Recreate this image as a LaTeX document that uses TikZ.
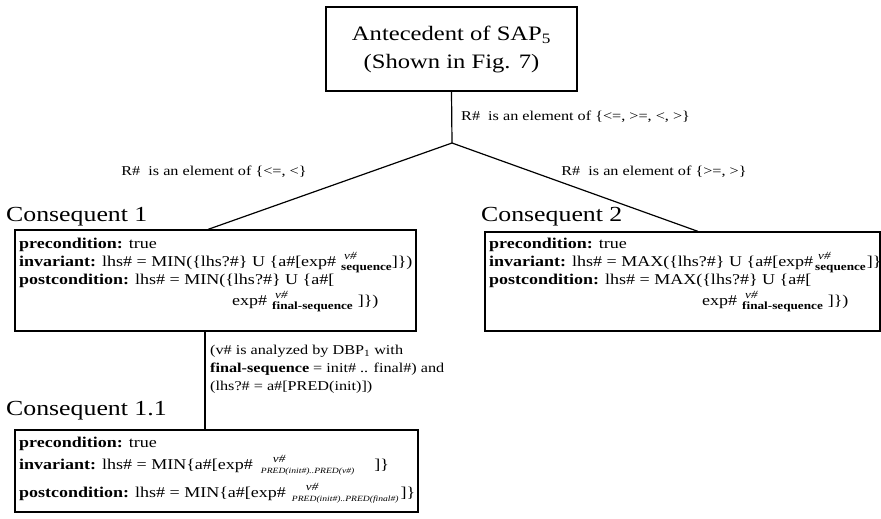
\documentclass[tikz,border=0pt]{standalone}
\usepackage{fontspec}
\setmainfont{Liberation Serif}[FakeStretch=1.2]
\newcommand\vmark[1]{\rlap{\hspace*{#1}\raisebox{7pt}{\fontsize{11}{11}\selectfont\textit{v\#}}}}
\newcommand\lowsub[2]{\raisebox{-4pt}{\fontsize{#1}{#1}\selectfont #2}}
\begin{document}
\begin{tikzpicture}[x=1pt,y=-1pt,
  box/.style={draw, line width=1.2pt, inner sep=0pt},
  txt/.style={font=\fontsize{15}{18}\selectfont, anchor=base west, inner sep=0pt},
  cond/.style={font=\fontsize{13.5}{18}\selectfont, inner sep=0pt},
  cons/.style={font=\fontsize{21.5}{26}\selectfont, anchor=base west, inner sep=0pt},
  link/.style={line width=1.2pt}]
\useasboundingbox (0,0) rectangle (881,519);

% antecedent
\node[box, minimum width=251pt, minimum height=84pt, align=center,
      font=\fontsize{20.5}{28}\selectfont] (ante) at (451.5,49)
  {Antecedent of SAP\textsubscript{5}\\(Shown in Fig. 7)};
\coordinate (j) at (452,143);
\coordinate (b1) at (208,0);
\coordinate (b2) at (698,0);
\coordinate (k) at (205,0);

% consequent boxes
\node[box, minimum width=401pt, minimum height=101pt] (c1) at (215.5,280.5) {};
\node[box, minimum width=395pt, minimum height=99pt] (c2) at (682.5,281.5) {};
\node[box, minimum width=403pt, minimum height=82pt] (c11) at (216.5,471) {};

% connectors
\draw[link] (ante.south) -- (j);
\draw[link] (j) -- (c1.north -| b1);
\draw[link] (j) -- (c2.north -| b2);
\draw[link] (c1.south -| k) -- (c11.north -| k);

% branch conditions
\node[cond, anchor=west] (r0) at (461,117) {R\#\ \ is an element of \{<=, >=, <, >\}};
\node[cond] (r1) at (214,172) {R\#\ \ is an element of \{<=, <\}};
\node[cond] (r2) at (654,172) {R\#\ \ is an element of \{>=, >\}};
\node[cond, anchor=north west, align=left] (r3) at (210,345)
  {(v\# is analyzed by DBP\textsubscript{1} with\\
   \textbf{final-sequence} = init\# .. final\#) and\\
   (lhs?\# = a\#[PRED(init)])};

% titles
\node[cons] (t1) at (6,221) {Consequent 1};
\node[cons] (t2) at (481,221) {Consequent 2};
\node[cons] (t11) at (6,415) {Consequent 1.1};

% consequent 1
\node[txt] (c1a) at (19,248) {\textbf{precondition:} true};
\node[txt] (c1b) at (19,266) {\textbf{invariant:} lhs\# = MIN(\{lhs?\#\} U \{a\#[exp\#\hspace{5pt}\vmark{3pt}\lowsub{11}{\textbf{sequence}}]\})};
\node[txt] (c1c) at (19,284) {\textbf{postcondition:} lhs\# = MIN(\{lhs?\#\} U \{a\#[};
\node[txt] (c1d) at (232,305) {exp\#\hspace{5pt}\vmark{3pt}\lowsub{11}{\textbf{final-sequence}}\hspace{5pt}]\})};

% consequent 2
\node[txt] (c2a) at (489,248) {\textbf{precondition:} true};
\node[txt] (c2b) at (489,266) {\textbf{invariant:} lhs\# = MAX(\{lhs?\#\} U \{a\#[exp\#\hspace{2pt}\vmark{3pt}\lowsub{11}{\textbf{sequence}}\hspace{1pt}]\})};
\node[txt] (c2c) at (489,284) {\textbf{postcondition:} lhs\# = MAX(\{lhs?\#\} U \{a\#[};
\node[txt] (c2d) at (702,305) {exp\#\hspace{5pt}\vmark{3pt}\lowsub{11}{\textbf{final-sequence}}\hspace{5pt}]\})};

% consequent 1.1
\node[txt] (c11a) at (19,447) {\textbf{precondition:} true};
\node[txt] (c11b) at (19,469) {\textbf{invariant:} lhs\# = MIN\{a\#[exp\#\hspace{8pt}\vmark{12pt}\lowsub{8}{\textit{PRED(init\#)..PRED(v\#)}}\hspace{20pt}]\}};
\node[txt] (c11c) at (19,497) {\textbf{postcondition:} lhs\# = MIN\{a\#[exp\#\hspace{6pt}\vmark{14pt}\lowsub{8}{\textit{PRED(init\#)..PRED(final\#)}}\hspace{2pt}]\}};
\end{tikzpicture}
\end{document}
